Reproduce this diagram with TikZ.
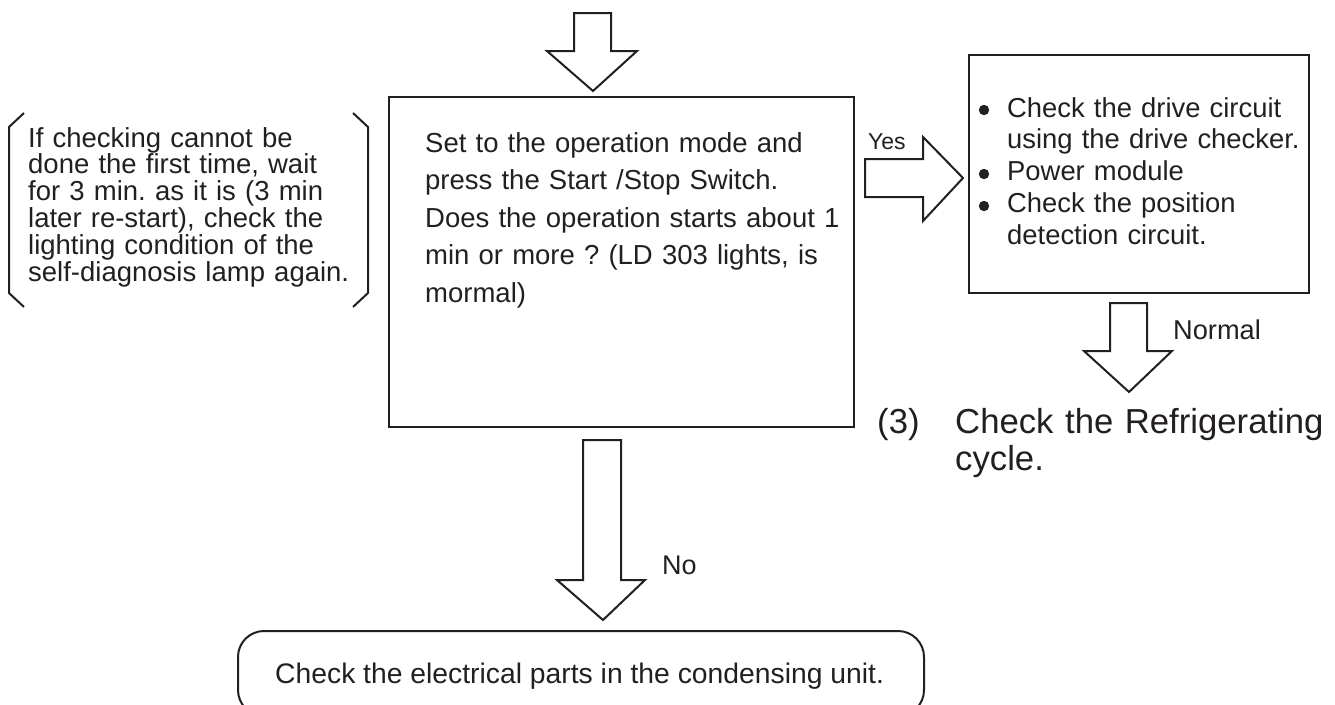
\documentclass[tikz,border=0pt]{standalone}
\usepackage{fontspec}
\setmainfont{Liberation Sans}
\definecolor{ink}{HTML}{231F20}
\frenchspacing
\begin{document}
\begin{tikzpicture}[x=1pt,y=-1pt,
  box/.style={draw=ink, line width=2pt, rectangle, inner sep=0pt, anchor=north west},
  txt/.style={inner sep=0pt, anchor=base west, text=ink, align=left},
  barrow/.style={draw=ink, line width=2pt, fill=white, line join=miter},
  bracket/.style={draw=ink, line width=2pt, line join=miter},
  dot/.style={fill=ink}]
\path[use as bounding box] (0,0) rectangle (1335,704);
\clip (0,0) rectangle (1335,704);

% boxes
\node[box, minimum width=465pt, minimum height=330pt] (main) at (388,96) {};
\node[box, minimum width=340pt, minimum height=238pt] (right) at (968,54) {};
\node[box, rounded corners=26pt, minimum width=686pt, minimum height=85pt] (bottom) at (237,630) {};

% texts
\node[txt, text width=340pt, font=\fontsize{27.5}{26.8}\selectfont] (note) at (28,147)
 {If checking cannot be\\done the first time, wait\\for 3 min. as it is (3 min\\later re-start), check the\\lighting condition of the\\self-diagnosis lamp again.};
\node[txt, text width=420pt, font=\fontsize{27.5}{37.5}\selectfont] (maintext) at (425,152)
 {Set to the operation mode and\\press the Start /Stop Switch.\\Does the operation starts about 1\\min or more ? (LD 303 lights, is\\mormal)};
\node[txt, text width=320pt, font=\fontsize{27.4}{31.8}\selectfont] (righttext) at (1007,117)
 {Check the drive circuit\\using the drive checker.\\Power module\\Check the position\\detection circuit.};
\fill[dot] (984,110) circle (5.2pt);
\fill[dot] (984,174) circle (5.2pt);
\fill[dot] (984,206) circle (5.2pt);
\node[txt, font=\fontsize{28.3}{34}\selectfont] (bottomtext) at (275,683)
 {Check the electrical parts in the condensing unit.};
\node[txt, font=\fontsize{34.7}{37}\selectfont] (num) at (877,433) {(3)};
\node[txt, text width=400pt, font=\fontsize{34.7}{37}\selectfont] (refr) at (955,433)
 {Check the Refrigerating\\cycle.};
\node[txt, font=\fontsize{23}{26}\selectfont] (yes) at (868,149) {Yes};
\node[txt, font=\fontsize{27.2}{30}\selectfont] (normal) at (1173,339) {Normal};
\node[txt, font=\fontsize{27}{30}\selectfont] (no) at (662,574) {No};

% brackets
\draw[bracket] (24,113) -- (9,127) -- (9,293) -- (24,307);
\draw[bracket] (353,113) -- (368,127) -- (368,293) -- (353,307);

% block arrows
\draw[barrow] (574,13) -- (611,13) -- (611,51) -- (637,51) -- (593,91) -- (547,51) -- (574,51) -- cycle;
\draw[barrow] (865,159) -- (923,159) -- (923,137) -- (963,178) -- (923,221) -- (923,197) -- (865,197) -- cycle;
\draw[barrow] (1110,303) -- (1147,303) -- (1147,351) -- (1172,351) -- (1129,392) -- (1084,351) -- (1110,351) -- cycle;
\draw[barrow] (583,440) -- (621,440) -- (621,580) -- (645,580) -- (603,620) -- (557,580) -- (583,580) -- cycle;
\end{tikzpicture}
\end{document}
